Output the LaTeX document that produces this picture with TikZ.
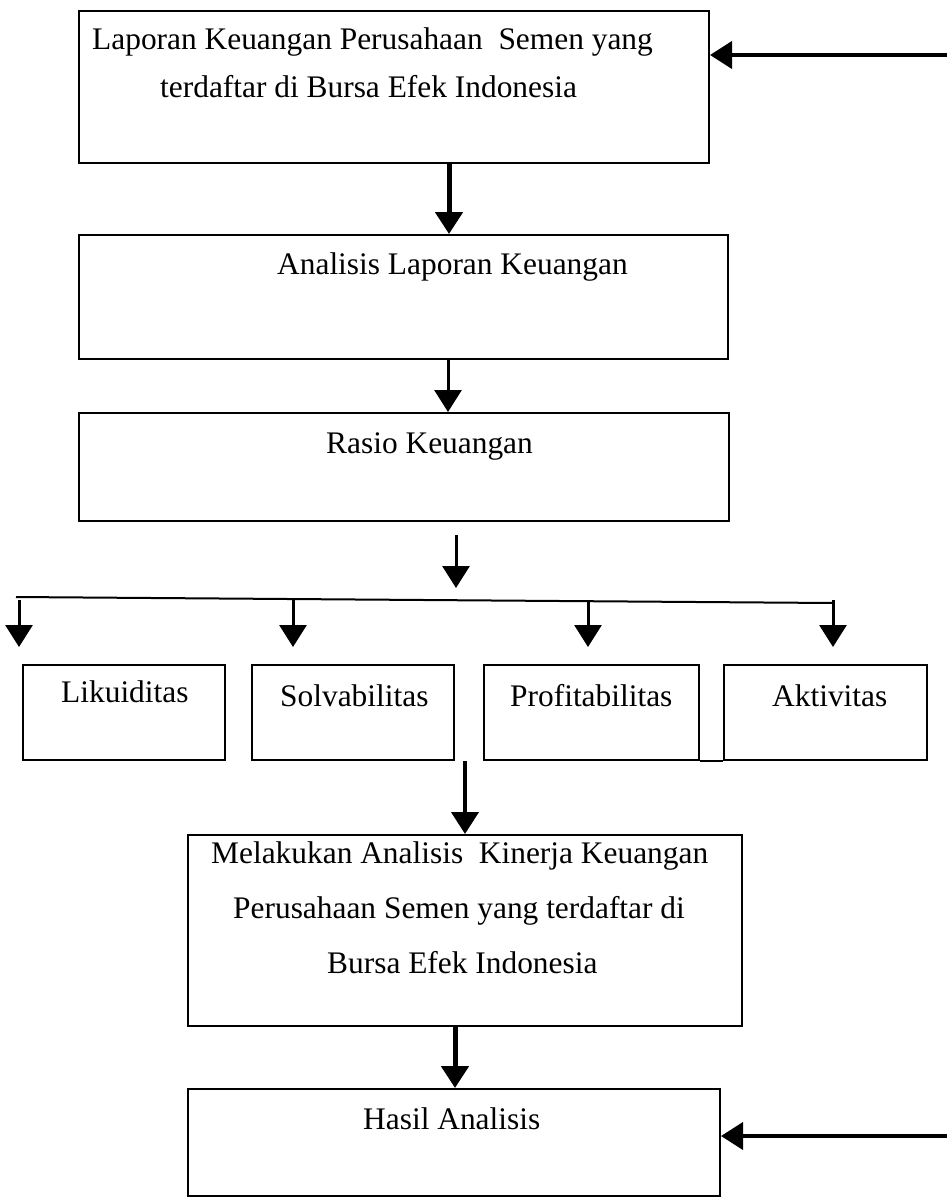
\documentclass[tikz,border=0pt]{standalone}
\usepackage{fontspec}
\setmainfont{Liberation Serif}
\usetikzlibrary{arrows.meta}
\tikzset{>={Triangle[length=22pt,width=27pt]}}
\tikzset{box/.style={draw,line width=2pt,inner sep=0pt,anchor=north west},
  txt/.style={anchor=base west,inner sep=0pt,font=\fontsize{31.4}{38}\selectfont},
  arr/.style={->,line width=4pt},
  arrthin/.style={->,line width=3pt}}

\begin{document}
\begin{tikzpicture}[x=1pt,y=-1pt]
\useasboundingbox (0,0) rectangle (947,1197);
% kotak
\node[box,minimum width=630pt,minimum height=152pt] (lap) at (78,10) {};
\node[box,minimum width=649pt,minimum height=124pt] (ana) at (78,234) {};
\node[box,minimum width=650pt,minimum height=108pt] (rasio) at (78,412) {};
\node[box,minimum width=202pt,minimum height=95pt] (lik) at (22,664) {};
\node[box,minimum width=202pt,minimum height=95pt] (sol) at (251,664) {};
\node[box,minimum width=215pt,minimum height=95pt] (pro) at (483,664) {};
\node[box,minimum width=203pt,minimum height=95pt] (akt) at (723,664) {};
\node[box,minimum width=554pt,minimum height=191pt] (kin) at (187,834) {};
\node[box,minimum width=532pt,minimum height=107pt] (has) at (187,1088) {};
\draw[line width=2pt] (pro.south east) -- (akt.south west);
% teks
\node[txt] (t1) at (92,49) {Laporan Keuangan Perusahaan\ \ Semen yang};
\node[txt] (t2) at (160,97) {terdaftar di Bursa Efek Indonesia};
\node[txt] (t3) at (277,274) {Analisis Laporan Keuangan};
\node[txt] (t4) at (326,453) {Rasio Keuangan};
\node[txt] (t5) at (61,702) {Likuiditas};
\node[txt] (t6) at (280,706) {Solvabilitas};
\node[txt] (t7) at (510,706) {Profitabilitas};
\node[txt] (t8) at (772,706) {Aktivitas};
\node[txt] (t9) at (211,863) {Melakukan Analisis\ \ Kinerja Keuangan};
\node[txt] (t10) at (233,918) {Perusahaan Semen yang terdaftar di};
\node[txt] (t11) at (327,973) {Bursa Efek Indonesia};
\node[txt] (t12) at (363,1129) {Hasil Analisis};
% panah
\coordinate (a1) at (449,0);
\coordinate (a2) at (448,0);
\coordinate (a4) at (465,0);
\coordinate (a5) at (455,0);
\draw[arr,line width=5pt] (lap.south -| a1) -- (ana.north -| a1);
\draw[arrthin] (ana.south -| a2) -- (rasio.north -| a2);
\draw[arr] (sol.south -| a4) -- (kin.north -| a4);
\draw[arr,line width=5pt] (kin.south -| a5) -- (has.north -| a5);
\coordinate (in1) at (947,55);
\coordinate (in2) at (947,1136);
\draw[arr] (in1) -- (lap.east |- in1);
\draw[arr] (in2) -- (has.east |- in2);
% cabang rasio
\coordinate (r3a) at (456,535);
\coordinate (r3b) at (456,588);
\draw[arrthin] (r3a) -- (r3b);
\coordinate (sL) at (16,597);
\coordinate (sR) at (833,603);
\draw[line width=2pt] (sL) -- (sR);
\foreach \n/\x in {lik/19,sol/293,pro/588,akt/833}{
  \coordinate (\n-a) at (\x,600);
  \coordinate (\n-b) at (\x,647);
  \draw[arrthin] (\n-a) -- (\n-b);
}
\end{tikzpicture}
\end{document}
